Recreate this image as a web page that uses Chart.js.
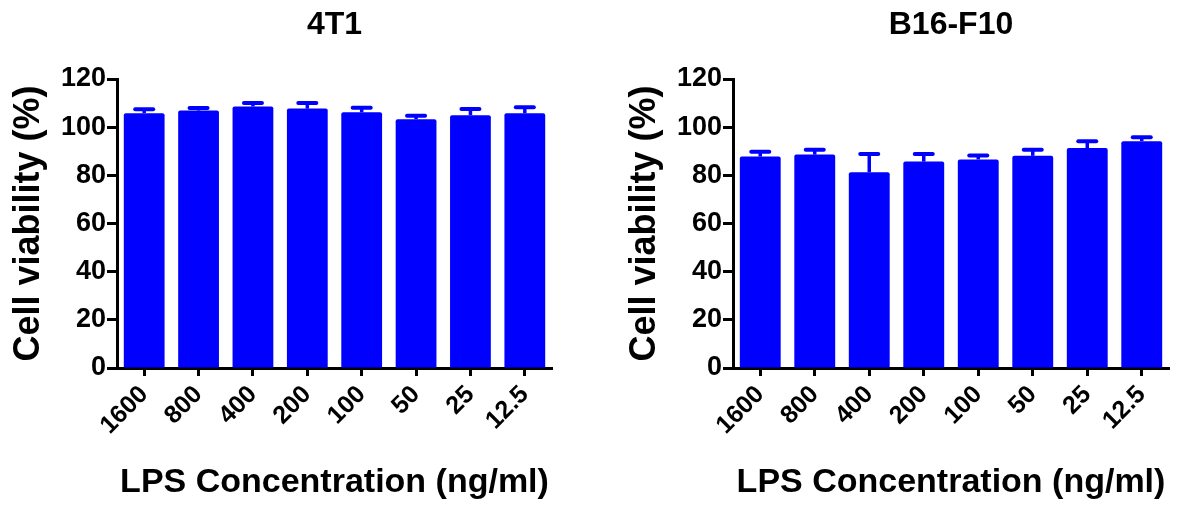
<!DOCTYPE html>
<html>
<head>
<meta charset="utf-8">
<script src="https://cdn.jsdelivr.net/npm/chart.js@4.4.1/dist/chart.umd.min.js"></script>
<style>
  html, body { margin: 0; padding: 0; background: #ffffff; }
  body { width: 1186px; height: 506px; position: relative; overflow: hidden; }
  .box { position: absolute; top: 0; height: 506px; }
</style>
</head>
<body>
<div class="box" style="left:0;width:569px;"><canvas id="c1" width="569" height="506"></canvas></div>
<div class="box" style="left:616px;width:570px;"><canvas id="c2" width="570" height="506"></canvas></div>
<script>
const categories = ['1600', '800', '400', '200', '100', '50', '25', '12.5'];
const yTicks = [0, 20, 40, 60, 80, 100, 120];

const t41Means  = [105.8, 106.9, 108.6, 107.7, 106.2, 103.3, 105.0, 105.8];
const t41Errors = [1.6, 1.1, 1.4, 2.3, 1.9, 1.4, 2.5, 2.5];

const b16Means  = [87.8, 88.6, 81.3, 85.7, 86.6, 88.1, 91.3, 94.2];
const b16Errors = [2.0, 2.0, 7.6, 3.2, 1.6, 2.5, 2.9, 1.6];

const FONT = '"Liberation Sans", Arial, Helvetica, sans-serif';
const BLUE = 'rgb(0,0,255)';

const errorBarPlugin = {
  id: 'errorBars',
  afterDatasetsDraw(chart, args, opts) {
    const ctx = chart.ctx;
    const xs = chart.scales.x, ys = chart.scales.y;
    const means = chart.data.datasets[0].data;
    const errs = opts.errors || [];
    ctx.save();
    ctx.strokeStyle = BLUE;
    means.forEach((m, i) => {
      const x = xs.getPixelForValue(i);
      const yTop = ys.getPixelForValue(m + errs[i]);
      const yBar = ys.getPixelForValue(m);
      ctx.lineWidth = 3.5;
      ctx.lineCap = 'butt';
      ctx.beginPath();
      ctx.moveTo(x, yBar);
      ctx.lineTo(x, yTop);
      ctx.stroke();
      ctx.lineWidth = 4;
      ctx.lineCap = 'round';
      ctx.beginPath();
      ctx.moveTo(x - 9, yTop);
      ctx.lineTo(x + 9, yTop);
      ctx.stroke();
    });
    ctx.restore();
  }
};

function makeChart(id, title, means, errors) {
  return new Chart(document.getElementById(id), {
    type: 'bar',
    data: {
      labels: categories,
      datasets: [{
        data: means,
        backgroundColor: BLUE,
        borderWidth: 0,
        borderRadius: 2,
        borderSkipped: 'bottom',
        categoryPercentage: 1.0,
        barPercentage: 0.75
      }]
    },
    options: {
      responsive: false,
      animation: false,
      events: [],
      layout: { padding: { left: 0, right: 17, top: 0, bottom: 0 } },
      plugins: {
        legend: { display: false },
        tooltip: { enabled: false },
        title: {
          display: true,
          text: title,
          color: '#000',
          fullSize: false,
          font: { family: FONT, size: 32, weight: 'bold', lineHeight: 1.2 },
          padding: { top: 6, bottom: 34.6 }
        },
        errorBars: { errors: errors }
      },
      scales: {
        x: {
          offset: true,
          grid: { display: true, offset: false, drawOnChartArea: false, drawTicks: true, tickLength: 8, tickWidth: 3, tickColor: '#000' },
          border: { display: true, color: '#000', width: 3 },
          ticks: {
            color: '#000',
            minRotation: 45, maxRotation: 45,
            padding: 4,
            font: { family: FONT, size: 25, weight: 'bold' }
          },
          title: {
            display: true,
            text: 'LPS Concentration (ng/ml)',
            color: '#000',
            font: { family: FONT, size: 34, weight: 'bold', lineHeight: 1.2 },
            padding: { top: 0, bottom: 3 }
          },
          afterFit(scale) { scale.height = 138; }
        },
        y: {
          min: 0, max: 120,
          afterBuildTicks(scale) { scale.ticks = yTicks.map(v => ({ value: v })); },
          grid: { display: true, drawOnChartArea: false, drawTicks: true, tickLength: 10, tickWidth: 3, tickColor: '#000' },
          border: { display: true, color: '#000', width: 3 },
          ticks: {
            color: '#000',
            padding: 1,
            font: { family: FONT, size: 27, weight: 'bold' }
          },
          title: {
            display: true,
            text: 'Cell viability (%)',
            color: '#000',
            font: { family: FONT, size: 36, weight: 'bold', lineHeight: 1.2 },
            padding: { top: 7, bottom: 0 }
          },
          afterFit(scale) { scale.width = 117; }
        }
      }
    },
    plugins: [errorBarPlugin]
  });
}

makeChart('c1', '4T1', t41Means, t41Errors);
makeChart('c2', 'B16-F10', b16Means, b16Errors);
</script>
</body>
</html>
